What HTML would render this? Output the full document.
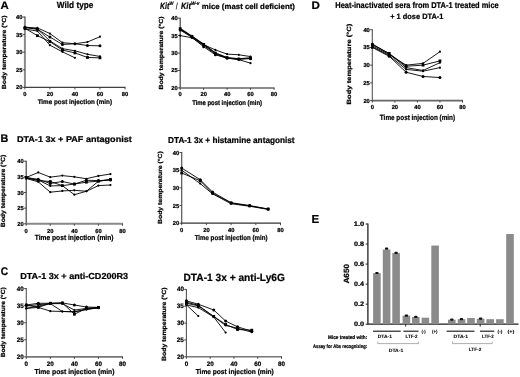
<!DOCTYPE html><html><head><meta charset="utf-8"><style>
html,body{margin:0;padding:0;background:#fff;width:520px;height:377px;overflow:hidden}
svg{display:block;font-family:"Liberation Sans", sans-serif;font-weight:bold;text-rendering:geometricPrecision;filter:grayscale(1) blur(0.3px)} text{stroke:#000;stroke-width:0.22px} text.n{stroke-width:0.08px}
</style></head><body>
<svg width="520" height="377" viewBox="0 0 520 377" fill="#000">
<rect width="520" height="377" fill="#fff"/>
<text x="0.57" y="8.80" font-size="10.901" textLength="8.23" lengthAdjust="spacingAndGlyphs">A</text>
<text x="0.55" y="141.50" font-size="11.047" textLength="7.79" lengthAdjust="spacingAndGlyphs">B</text>
<text x="0.78" y="275.30" font-size="11.192" textLength="7.40" lengthAdjust="spacingAndGlyphs">C</text>
<text x="311.63" y="8.85" font-size="10.974" textLength="8.36" lengthAdjust="spacingAndGlyphs">D</text>
<text x="311.62" y="222.80" font-size="11.628" textLength="7.73" lengthAdjust="spacingAndGlyphs">E</text>
<path d="M24.90 16.50 V87.40" fill="none" stroke="#8a8a8a" stroke-width="2.0"/>
<path d="M24.40 87.40 H125.50" fill="none" stroke="#404040" stroke-width="1.3"/>
<path d="M22.70 87.40 H24.90" stroke="#3a3a3a" stroke-width="0.9"/>
<text x="15.99" y="89.40" font-size="5.800" textLength="6.45" lengthAdjust="spacingAndGlyphs">20</text>
<path d="M22.70 69.80 H24.90" stroke="#3a3a3a" stroke-width="0.9"/>
<text x="15.91" y="71.80" font-size="5.800" textLength="6.45" lengthAdjust="spacingAndGlyphs">25</text>
<path d="M22.70 52.20 H24.90" stroke="#3a3a3a" stroke-width="0.9"/>
<text x="15.99" y="54.20" font-size="5.800" textLength="6.45" lengthAdjust="spacingAndGlyphs">30</text>
<path d="M22.70 34.60 H24.90" stroke="#3a3a3a" stroke-width="0.9"/>
<text x="15.91" y="36.60" font-size="5.800" textLength="6.45" lengthAdjust="spacingAndGlyphs">35</text>
<path d="M22.70 17.00 H24.90" stroke="#3a3a3a" stroke-width="0.9"/>
<text x="15.99" y="19.00" font-size="5.800" textLength="6.45" lengthAdjust="spacingAndGlyphs">40</text>
<path d="M24.90 87.40 V89.40" stroke="#3a3a3a" stroke-width="0.9"/>
<text x="23.29" y="96.20" font-size="5.800" textLength="3.23" lengthAdjust="spacingAndGlyphs">0</text>
<path d="M49.92 87.40 V89.40" stroke="#3a3a3a" stroke-width="0.9"/>
<text x="46.72" y="96.20" font-size="5.800" textLength="6.45" lengthAdjust="spacingAndGlyphs">20</text>
<path d="M74.95 87.40 V89.40" stroke="#3a3a3a" stroke-width="0.9"/>
<text x="71.80" y="96.20" font-size="5.800" textLength="6.45" lengthAdjust="spacingAndGlyphs">40</text>
<path d="M99.97 87.40 V89.40" stroke="#3a3a3a" stroke-width="0.9"/>
<text x="96.76" y="96.20" font-size="5.800" textLength="6.45" lengthAdjust="spacingAndGlyphs">60</text>
<path d="M125.00 87.40 V89.40" stroke="#3a3a3a" stroke-width="0.9"/>
<text x="121.80" y="96.20" font-size="5.800" textLength="6.45" lengthAdjust="spacingAndGlyphs">80</text>
<text x="56.79" y="7.85" font-size="9.084" textLength="36.59" lengthAdjust="spacingAndGlyphs">Wild type</text>
<text x="37.63" y="104.40" font-size="6.686" textLength="74.38" lengthAdjust="spacingAndGlyphs">Time post injection (min)</text>
<text transform="translate(6.10 89.16) rotate(-90)" font-size="5.959" textLength="73.76" lengthAdjust="spacingAndGlyphs">Body temperature (°C)</text>
<g fill="#000" stroke="none">
<polyline points="24.90,27.56 37.41,27.91 49.92,33.54 62.44,42.70 74.95,43.75 87.46,41.99 99.97,36.71" fill="none" stroke="#000" stroke-width="0.9" stroke-linejoin="round"/>
<circle cx="24.90" cy="27.56" r="1.10"/>
<circle cx="37.41" cy="27.91" r="1.10"/>
<circle cx="49.92" cy="33.54" r="1.10"/>
<circle cx="62.44" cy="42.70" r="1.10"/>
<circle cx="74.95" cy="43.75" r="1.10"/>
<circle cx="87.46" cy="41.99" r="1.10"/>
<circle cx="99.97" cy="36.71" r="1.10"/>
<polyline points="24.90,27.56 37.41,29.32 49.92,37.06 62.44,44.46 74.95,43.75 87.46,45.51 99.97,45.86" fill="none" stroke="#000" stroke-width="0.9" stroke-linejoin="round"/>
<circle cx="24.90" cy="27.56" r="1.50"/>
<circle cx="37.41" cy="29.32" r="1.50"/>
<circle cx="49.92" cy="37.06" r="1.50"/>
<circle cx="62.44" cy="44.46" r="1.50"/>
<circle cx="74.95" cy="43.75" r="1.50"/>
<circle cx="87.46" cy="45.51" r="1.50"/>
<circle cx="99.97" cy="45.86" r="1.50"/>
<polyline points="24.90,26.86 37.41,28.97 49.92,40.94 62.44,48.68 74.95,50.79 87.46,54.31 99.97,56.42" fill="none" stroke="#000" stroke-width="0.9" stroke-linejoin="round"/>
<circle cx="24.90" cy="26.86" r="1.10"/>
<circle cx="37.41" cy="28.97" r="1.10"/>
<circle cx="49.92" cy="40.94" r="1.10"/>
<circle cx="62.44" cy="48.68" r="1.10"/>
<circle cx="74.95" cy="50.79" r="1.10"/>
<circle cx="87.46" cy="54.31" r="1.10"/>
<circle cx="99.97" cy="56.42" r="1.10"/>
<polyline points="24.90,28.26 37.41,35.66 49.92,41.64 62.44,50.09 74.95,52.90 87.46,57.48 99.97,57.83" fill="none" stroke="#000" stroke-width="0.9" stroke-linejoin="round"/>
<rect x="23.50" y="26.86" width="2.80" height="2.80"/>
<rect x="36.01" y="34.26" width="2.80" height="2.80"/>
<rect x="48.52" y="40.24" width="2.80" height="2.80"/>
<rect x="61.04" y="48.69" width="2.80" height="2.80"/>
<rect x="73.55" y="51.50" width="2.80" height="2.80"/>
<rect x="86.06" y="56.08" width="2.80" height="2.80"/>
<rect x="98.57" y="56.43" width="2.80" height="2.80"/>
<polyline points="24.90,28.97 37.41,31.08 49.92,45.16 62.44,51.85 74.95,57.83" fill="none" stroke="#000" stroke-width="0.9" stroke-linejoin="round"/>
<circle cx="24.90" cy="28.97" r="1.10"/>
<circle cx="37.41" cy="31.08" r="1.10"/>
<circle cx="49.92" cy="45.16" r="1.10"/>
<circle cx="62.44" cy="51.85" r="1.10"/>
<circle cx="74.95" cy="57.83" r="1.10"/>
</g>
<path d="M180.20 17.70 V87.90" fill="none" stroke="#444" stroke-width="1.2"/>
<path d="M179.70 87.90 H274.50" fill="none" stroke="#666" stroke-width="1.5"/>
<path d="M178.00 87.90 H180.20" stroke="#3a3a3a" stroke-width="0.9"/>
<text x="171.29" y="89.90" font-size="5.800" textLength="6.45" lengthAdjust="spacingAndGlyphs">20</text>
<path d="M178.00 70.48 H180.20" stroke="#3a3a3a" stroke-width="0.9"/>
<text x="171.21" y="72.48" font-size="5.800" textLength="6.45" lengthAdjust="spacingAndGlyphs">25</text>
<path d="M178.00 53.05 H180.20" stroke="#3a3a3a" stroke-width="0.9"/>
<text x="171.29" y="55.05" font-size="5.800" textLength="6.45" lengthAdjust="spacingAndGlyphs">30</text>
<path d="M178.00 35.62 H180.20" stroke="#3a3a3a" stroke-width="0.9"/>
<text x="171.21" y="37.62" font-size="5.800" textLength="6.45" lengthAdjust="spacingAndGlyphs">35</text>
<path d="M178.00 18.20 H180.20" stroke="#3a3a3a" stroke-width="0.9"/>
<text x="171.29" y="20.20" font-size="5.800" textLength="6.45" lengthAdjust="spacingAndGlyphs">40</text>
<path d="M180.20 87.90 V89.90" stroke="#3a3a3a" stroke-width="0.9"/>
<text x="178.59" y="96.30" font-size="5.800" textLength="3.23" lengthAdjust="spacingAndGlyphs">0</text>
<path d="M203.65 87.90 V89.90" stroke="#3a3a3a" stroke-width="0.9"/>
<text x="200.44" y="96.30" font-size="5.800" textLength="6.45" lengthAdjust="spacingAndGlyphs">20</text>
<path d="M227.10 87.90 V89.90" stroke="#3a3a3a" stroke-width="0.9"/>
<text x="223.95" y="96.30" font-size="5.800" textLength="6.45" lengthAdjust="spacingAndGlyphs">40</text>
<path d="M250.55 87.90 V89.90" stroke="#3a3a3a" stroke-width="0.9"/>
<text x="247.34" y="96.30" font-size="5.800" textLength="6.45" lengthAdjust="spacingAndGlyphs">60</text>
<path d="M274.00 87.90 V89.90" stroke="#3a3a3a" stroke-width="0.9"/>
<text x="270.80" y="96.30" font-size="5.800" textLength="6.45" lengthAdjust="spacingAndGlyphs">80</text>
<text x="192.13" y="105.00" font-size="6.831" textLength="69.86" lengthAdjust="spacingAndGlyphs">Time post injection (min)</text>
<text transform="translate(162.70 89.56) rotate(-90)" font-size="5.959" textLength="73.10" lengthAdjust="spacingAndGlyphs">Body temperature (°C)</text>
<g fill="#000" stroke="none">
<polyline points="180.20,29.35 191.92,36.67 203.65,44.69 215.38,49.91 227.10,54.10 238.82,54.79 250.55,56.54" fill="none" stroke="#000" stroke-width="0.9" stroke-linejoin="round"/>
<circle cx="180.20" cy="29.35" r="1.10"/>
<circle cx="191.92" cy="36.67" r="1.10"/>
<circle cx="203.65" cy="44.69" r="1.10"/>
<circle cx="215.38" cy="49.91" r="1.10"/>
<circle cx="227.10" cy="54.10" r="1.10"/>
<circle cx="238.82" cy="54.79" r="1.10"/>
<circle cx="250.55" cy="56.54" r="1.10"/>
<polyline points="180.20,30.05 191.92,37.37 203.65,46.78 215.38,54.79 227.10,58.28 238.82,59.32 250.55,58.63" fill="none" stroke="#000" stroke-width="0.9" stroke-linejoin="round"/>
<circle cx="180.20" cy="30.05" r="1.50"/>
<circle cx="191.92" cy="37.37" r="1.50"/>
<circle cx="203.65" cy="46.78" r="1.50"/>
<circle cx="215.38" cy="54.79" r="1.50"/>
<circle cx="227.10" cy="58.28" r="1.50"/>
<circle cx="238.82" cy="59.32" r="1.50"/>
<circle cx="250.55" cy="58.63" r="1.50"/>
<polyline points="180.20,35.62 191.92,37.72 203.65,45.38 215.38,54.10 227.10,57.93 238.82,59.67 250.55,63.16" fill="none" stroke="#000" stroke-width="0.9" stroke-linejoin="round"/>
<circle cx="180.20" cy="35.62" r="1.10"/>
<circle cx="191.92" cy="37.72" r="1.10"/>
<circle cx="203.65" cy="45.38" r="1.10"/>
<circle cx="215.38" cy="54.10" r="1.10"/>
<circle cx="227.10" cy="57.93" r="1.10"/>
<circle cx="238.82" cy="59.67" r="1.10"/>
<circle cx="250.55" cy="63.16" r="1.10"/>
<polyline points="180.20,28.66 191.92,36.32 203.65,44.34 215.38,53.05 227.10,57.58 238.82,58.97 250.55,57.93" fill="none" stroke="#000" stroke-width="1.3" stroke-linejoin="round"/>
<rect x="178.80" y="27.26" width="2.80" height="2.80"/>
<rect x="190.52" y="34.92" width="2.80" height="2.80"/>
<rect x="202.25" y="42.94" width="2.80" height="2.80"/>
<rect x="213.97" y="51.65" width="2.80" height="2.80"/>
<rect x="225.70" y="56.18" width="2.80" height="2.80"/>
<rect x="237.42" y="57.57" width="2.80" height="2.80"/>
<rect x="249.15" y="56.53" width="2.80" height="2.80"/>
</g>
<path d="M26.20 160.70 V223.80" fill="none" stroke="#444" stroke-width="1.2"/>
<path d="M25.70 223.80 H123.00" fill="none" stroke="#888" stroke-width="2.0"/>
<path d="M24.00 223.80 H26.20" stroke="#3a3a3a" stroke-width="0.9"/>
<text x="17.29" y="225.80" font-size="5.800" textLength="6.45" lengthAdjust="spacingAndGlyphs">20</text>
<path d="M24.00 208.15 H26.20" stroke="#3a3a3a" stroke-width="0.9"/>
<text x="17.21" y="210.15" font-size="5.800" textLength="6.45" lengthAdjust="spacingAndGlyphs">25</text>
<path d="M24.00 192.50 H26.20" stroke="#3a3a3a" stroke-width="0.9"/>
<text x="17.29" y="194.50" font-size="5.800" textLength="6.45" lengthAdjust="spacingAndGlyphs">30</text>
<path d="M24.00 176.85 H26.20" stroke="#3a3a3a" stroke-width="0.9"/>
<text x="17.21" y="178.85" font-size="5.800" textLength="6.45" lengthAdjust="spacingAndGlyphs">35</text>
<path d="M24.00 161.20 H26.20" stroke="#3a3a3a" stroke-width="0.9"/>
<text x="17.29" y="163.20" font-size="5.800" textLength="6.45" lengthAdjust="spacingAndGlyphs">40</text>
<path d="M26.20 223.80 V225.80" stroke="#3a3a3a" stroke-width="0.9"/>
<text x="24.59" y="232.60" font-size="5.800" textLength="3.23" lengthAdjust="spacingAndGlyphs">0</text>
<path d="M50.27 223.80 V225.80" stroke="#3a3a3a" stroke-width="0.9"/>
<text x="47.07" y="232.60" font-size="5.800" textLength="6.45" lengthAdjust="spacingAndGlyphs">20</text>
<path d="M74.35 223.80 V225.80" stroke="#3a3a3a" stroke-width="0.9"/>
<text x="71.20" y="232.60" font-size="5.800" textLength="6.45" lengthAdjust="spacingAndGlyphs">40</text>
<path d="M98.42 223.80 V225.80" stroke="#3a3a3a" stroke-width="0.9"/>
<text x="95.21" y="232.60" font-size="5.800" textLength="6.45" lengthAdjust="spacingAndGlyphs">60</text>
<path d="M122.50 223.80 V225.80" stroke="#3a3a3a" stroke-width="0.9"/>
<text x="119.30" y="232.60" font-size="5.800" textLength="6.45" lengthAdjust="spacingAndGlyphs">80</text>
<text x="16.90" y="142.00" font-size="8.430" textLength="114.91" lengthAdjust="spacingAndGlyphs">DTA-1 3x + PAF antagonist</text>
<text x="34.73" y="239.90" font-size="7.413" textLength="78.81" lengthAdjust="spacingAndGlyphs">Time post injection (min)</text>
<text transform="translate(4.60 227.26) rotate(-90)" font-size="6.105" textLength="72.60" lengthAdjust="spacingAndGlyphs">Body temperature (°C)</text>
<g fill="#000" stroke="none">
<polyline points="26.20,177.48 38.24,172.47 50.27,177.16 62.31,175.60 74.35,176.85 86.39,178.73 98.42,175.91 110.46,174.03" fill="none" stroke="#000" stroke-width="0.9" stroke-linejoin="round"/>
<circle cx="26.20" cy="177.48" r="1.10"/>
<circle cx="38.24" cy="172.47" r="1.10"/>
<circle cx="50.27" cy="177.16" r="1.10"/>
<circle cx="62.31" cy="175.60" r="1.10"/>
<circle cx="74.35" cy="176.85" r="1.10"/>
<circle cx="86.39" cy="178.73" r="1.10"/>
<circle cx="98.42" cy="175.91" r="1.10"/>
<circle cx="110.46" cy="174.03" r="1.10"/>
<polyline points="26.20,177.48 38.24,179.35 50.27,183.42 62.31,181.54 74.35,184.05 86.39,180.29 98.42,180.61 110.46,179.98" fill="none" stroke="#000" stroke-width="0.9" stroke-linejoin="round"/>
<circle cx="26.20" cy="177.48" r="1.50"/>
<circle cx="38.24" cy="179.35" r="1.50"/>
<circle cx="50.27" cy="183.42" r="1.50"/>
<circle cx="62.31" cy="181.54" r="1.50"/>
<circle cx="74.35" cy="184.05" r="1.50"/>
<circle cx="86.39" cy="180.29" r="1.50"/>
<circle cx="98.42" cy="180.61" r="1.50"/>
<circle cx="110.46" cy="179.98" r="1.50"/>
<polyline points="26.20,177.48 38.24,180.61 50.27,181.54 62.31,185.61 74.35,184.05 86.39,182.17 98.42,181.23 110.46,179.35" fill="none" stroke="#000" stroke-width="0.9" stroke-linejoin="round"/>
<rect x="24.80" y="176.08" width="2.80" height="2.80"/>
<rect x="36.84" y="179.21" width="2.80" height="2.80"/>
<rect x="48.87" y="180.14" width="2.80" height="2.80"/>
<rect x="60.91" y="184.21" width="2.80" height="2.80"/>
<rect x="72.95" y="182.65" width="2.80" height="2.80"/>
<rect x="84.99" y="180.77" width="2.80" height="2.80"/>
<rect x="97.02" y="179.83" width="2.80" height="2.80"/>
<rect x="109.06" y="177.95" width="2.80" height="2.80"/>
<polyline points="26.20,178.41 38.24,181.86 50.27,192.19 62.31,190.94 74.35,190.31 86.39,191.25 98.42,185.61 110.46,184.99" fill="none" stroke="#000" stroke-width="0.9" stroke-linejoin="round"/>
<circle cx="26.20" cy="178.41" r="1.10"/>
<circle cx="38.24" cy="181.86" r="1.10"/>
<circle cx="50.27" cy="192.19" r="1.10"/>
<circle cx="62.31" cy="190.94" r="1.10"/>
<circle cx="74.35" cy="190.31" r="1.10"/>
<circle cx="86.39" cy="191.25" r="1.10"/>
<circle cx="98.42" cy="185.61" r="1.10"/>
<circle cx="110.46" cy="184.99" r="1.10"/>
<polyline points="26.20,178.41 38.24,179.98 50.27,185.93 62.31,185.61 74.35,194.69 86.39,191.25 98.42,181.23 110.46,179.67" fill="none" stroke="#000" stroke-width="0.9" stroke-linejoin="round"/>
<circle cx="26.20" cy="178.41" r="1.10"/>
<circle cx="38.24" cy="179.98" r="1.10"/>
<circle cx="50.27" cy="185.93" r="1.10"/>
<circle cx="62.31" cy="185.61" r="1.10"/>
<circle cx="74.35" cy="194.69" r="1.10"/>
<circle cx="86.39" cy="191.25" r="1.10"/>
<circle cx="98.42" cy="181.23" r="1.10"/>
<circle cx="110.46" cy="179.67" r="1.10"/>
</g>
<path d="M181.70 152.00 V223.20" fill="none" stroke="#555" stroke-width="1.2"/>
<path d="M181.20 223.20 H281.00" fill="none" stroke="#333" stroke-width="1.3"/>
<path d="M179.50 223.20 H181.70" stroke="#3a3a3a" stroke-width="0.9"/>
<text x="172.79" y="225.20" font-size="5.800" textLength="6.45" lengthAdjust="spacingAndGlyphs">20</text>
<path d="M179.50 205.52 H181.70" stroke="#3a3a3a" stroke-width="0.9"/>
<text x="172.71" y="207.52" font-size="5.800" textLength="6.45" lengthAdjust="spacingAndGlyphs">25</text>
<path d="M179.50 187.85 H181.70" stroke="#3a3a3a" stroke-width="0.9"/>
<text x="172.79" y="189.85" font-size="5.800" textLength="6.45" lengthAdjust="spacingAndGlyphs">30</text>
<path d="M179.50 170.18 H181.70" stroke="#3a3a3a" stroke-width="0.9"/>
<text x="172.71" y="172.18" font-size="5.800" textLength="6.45" lengthAdjust="spacingAndGlyphs">35</text>
<path d="M179.50 152.50 H181.70" stroke="#3a3a3a" stroke-width="0.9"/>
<text x="172.79" y="154.50" font-size="5.800" textLength="6.45" lengthAdjust="spacingAndGlyphs">40</text>
<path d="M181.70 223.20 V225.20" stroke="#3a3a3a" stroke-width="0.9"/>
<text x="180.09" y="232.00" font-size="5.800" textLength="3.23" lengthAdjust="spacingAndGlyphs">0</text>
<path d="M206.40 223.20 V225.20" stroke="#3a3a3a" stroke-width="0.9"/>
<text x="203.19" y="232.00" font-size="5.800" textLength="6.45" lengthAdjust="spacingAndGlyphs">20</text>
<path d="M231.10 223.20 V225.20" stroke="#3a3a3a" stroke-width="0.9"/>
<text x="227.95" y="232.00" font-size="5.800" textLength="6.45" lengthAdjust="spacingAndGlyphs">40</text>
<path d="M255.80 223.20 V225.20" stroke="#3a3a3a" stroke-width="0.9"/>
<text x="252.59" y="232.00" font-size="5.800" textLength="6.45" lengthAdjust="spacingAndGlyphs">60</text>
<path d="M280.50 223.20 V225.20" stroke="#3a3a3a" stroke-width="0.9"/>
<text x="277.30" y="232.00" font-size="5.800" textLength="6.45" lengthAdjust="spacingAndGlyphs">80</text>
<text x="168.05" y="143.40" font-size="8.576" textLength="126.55" lengthAdjust="spacingAndGlyphs">DTA-1 3x + histamine antagonist</text>
<text x="194.63" y="239.60" font-size="6.977" textLength="72.88" lengthAdjust="spacingAndGlyphs">Time post injection (min)</text>
<text transform="translate(161.80 223.96) rotate(-90)" font-size="5.959" textLength="72.70" lengthAdjust="spacingAndGlyphs">Body temperature (°C)</text>
<g fill="#000" stroke="none">
<polyline points="181.70,168.05 200.22,179.72 212.57,192.09 231.10,202.70 249.62,205.52 268.15,209.06" fill="none" stroke="#000" stroke-width="0.9" stroke-linejoin="round"/>
<circle cx="181.70" cy="168.05" r="1.50"/>
<circle cx="200.22" cy="179.72" r="1.50"/>
<circle cx="212.57" cy="192.09" r="1.50"/>
<circle cx="231.10" cy="202.70" r="1.50"/>
<circle cx="249.62" cy="205.52" r="1.50"/>
<circle cx="268.15" cy="209.06" r="1.50"/>
<polyline points="181.70,170.18 200.22,183.61 212.57,193.86 231.10,203.76 249.62,206.23 268.15,209.41" fill="none" stroke="#000" stroke-width="0.9" stroke-linejoin="round"/>
<circle cx="181.70" cy="170.18" r="1.10"/>
<circle cx="200.22" cy="183.61" r="1.10"/>
<circle cx="212.57" cy="193.86" r="1.10"/>
<circle cx="231.10" cy="203.76" r="1.10"/>
<circle cx="249.62" cy="206.23" r="1.10"/>
<circle cx="268.15" cy="209.41" r="1.10"/>
<polyline points="181.70,173.00 200.22,180.78 212.57,193.15 231.10,203.05 249.62,205.88 268.15,209.06" fill="none" stroke="#000" stroke-width="0.9" stroke-linejoin="round"/>
<rect x="180.30" y="171.60" width="2.80" height="2.80"/>
<rect x="198.82" y="179.38" width="2.80" height="2.80"/>
<rect x="211.17" y="191.75" width="2.80" height="2.80"/>
<rect x="229.70" y="201.65" width="2.80" height="2.80"/>
<rect x="248.22" y="204.48" width="2.80" height="2.80"/>
<rect x="266.75" y="207.66" width="2.80" height="2.80"/>
</g>
<path d="M26.30 288.10 V356.90" fill="none" stroke="#555" stroke-width="1.1"/>
<path d="M25.80 356.90 H123.00" fill="none" stroke="#777" stroke-width="1.6"/>
<path d="M24.10 356.90 H26.30" stroke="#3a3a3a" stroke-width="0.9"/>
<text x="16.85" y="358.90" font-size="6.300" textLength="7.01" lengthAdjust="spacingAndGlyphs">20</text>
<path d="M24.10 339.82 H26.30" stroke="#3a3a3a" stroke-width="0.9"/>
<text x="16.77" y="341.82" font-size="6.300" textLength="7.01" lengthAdjust="spacingAndGlyphs">25</text>
<path d="M24.10 322.75 H26.30" stroke="#3a3a3a" stroke-width="0.9"/>
<text x="16.85" y="324.75" font-size="6.300" textLength="7.01" lengthAdjust="spacingAndGlyphs">30</text>
<path d="M24.10 305.68 H26.30" stroke="#3a3a3a" stroke-width="0.9"/>
<text x="16.77" y="307.68" font-size="6.300" textLength="7.01" lengthAdjust="spacingAndGlyphs">35</text>
<path d="M24.10 288.60 H26.30" stroke="#3a3a3a" stroke-width="0.9"/>
<text x="16.85" y="290.60" font-size="6.300" textLength="7.01" lengthAdjust="spacingAndGlyphs">40</text>
<path d="M26.30 356.90 V358.90" stroke="#3a3a3a" stroke-width="0.9"/>
<text x="24.55" y="366.10" font-size="6.300" textLength="3.50" lengthAdjust="spacingAndGlyphs">0</text>
<path d="M50.35 356.90 V358.90" stroke="#3a3a3a" stroke-width="0.9"/>
<text x="46.87" y="366.10" font-size="6.300" textLength="7.01" lengthAdjust="spacingAndGlyphs">20</text>
<path d="M74.40 356.90 V358.90" stroke="#3a3a3a" stroke-width="0.9"/>
<text x="70.98" y="366.10" font-size="6.300" textLength="7.01" lengthAdjust="spacingAndGlyphs">40</text>
<path d="M98.45 356.90 V358.90" stroke="#3a3a3a" stroke-width="0.9"/>
<text x="94.96" y="366.10" font-size="6.300" textLength="7.01" lengthAdjust="spacingAndGlyphs">60</text>
<path d="M122.50 356.90 V358.90" stroke="#3a3a3a" stroke-width="0.9"/>
<text x="119.03" y="366.10" font-size="6.300" textLength="7.01" lengthAdjust="spacingAndGlyphs">80</text>
<text x="20.20" y="279.10" font-size="8.721" textLength="107.93" lengthAdjust="spacingAndGlyphs">DTA-1 3x + anti-CD200R3</text>
<text x="34.42" y="374.10" font-size="7.122" textLength="80.11" lengthAdjust="spacingAndGlyphs">Time post injection (min)</text>
<text transform="translate(5.10 357.34) rotate(-90)" font-size="5.959" textLength="69.97" lengthAdjust="spacingAndGlyphs">Body temperature (°C)</text>
<g fill="#000" stroke="none">
<polyline points="26.30,304.99 38.33,303.28 50.35,303.28 62.38,302.94 74.40,304.99 86.43,307.04 98.45,307.38" fill="none" stroke="#000" stroke-width="0.9" stroke-linejoin="round"/>
<circle cx="26.30" cy="304.99" r="1.50"/>
<circle cx="38.33" cy="303.28" r="1.50"/>
<circle cx="50.35" cy="303.28" r="1.50"/>
<circle cx="62.38" cy="302.94" r="1.50"/>
<circle cx="74.40" cy="304.99" r="1.50"/>
<circle cx="86.43" cy="307.04" r="1.50"/>
<circle cx="98.45" cy="307.38" r="1.50"/>
<polyline points="26.30,306.02 38.33,304.65 50.35,303.63 62.38,303.63 74.40,310.11 86.43,308.41 98.45,308.07" fill="none" stroke="#000" stroke-width="0.9" stroke-linejoin="round"/>
<circle cx="26.30" cy="306.02" r="1.10"/>
<circle cx="38.33" cy="304.65" r="1.10"/>
<circle cx="50.35" cy="303.63" r="1.10"/>
<circle cx="62.38" cy="303.63" r="1.10"/>
<circle cx="74.40" cy="310.11" r="1.10"/>
<circle cx="86.43" cy="308.41" r="1.10"/>
<circle cx="98.45" cy="308.07" r="1.10"/>
<polyline points="26.30,308.41 38.33,306.02 50.35,303.63 62.38,311.48 74.40,311.82 86.43,309.43 98.45,307.72" fill="none" stroke="#000" stroke-width="0.9" stroke-linejoin="round"/>
<circle cx="26.30" cy="308.41" r="1.10"/>
<circle cx="38.33" cy="306.02" r="1.10"/>
<circle cx="50.35" cy="303.63" r="1.10"/>
<circle cx="62.38" cy="311.48" r="1.10"/>
<circle cx="74.40" cy="311.82" r="1.10"/>
<circle cx="86.43" cy="309.43" r="1.10"/>
<circle cx="98.45" cy="307.72" r="1.10"/>
<polyline points="26.30,308.41 38.33,307.38 50.35,311.14 62.38,311.48 74.40,311.82 86.43,309.43 98.45,307.72" fill="none" stroke="#000" stroke-width="0.9" stroke-linejoin="round"/>
<circle cx="26.30" cy="308.41" r="1.10"/>
<circle cx="38.33" cy="307.38" r="1.10"/>
<circle cx="50.35" cy="311.14" r="1.10"/>
<circle cx="62.38" cy="311.48" r="1.10"/>
<circle cx="74.40" cy="311.82" r="1.10"/>
<circle cx="86.43" cy="309.43" r="1.10"/>
<circle cx="98.45" cy="307.72" r="1.10"/>
<polyline points="26.30,304.99 38.33,307.38 50.35,303.28 62.38,302.94 74.40,314.21 86.43,308.41 98.45,307.38" fill="none" stroke="#000" stroke-width="0.9" stroke-linejoin="round"/>
<rect x="24.90" y="303.59" width="2.80" height="2.80"/>
<rect x="36.93" y="305.98" width="2.80" height="2.80"/>
<rect x="48.95" y="301.88" width="2.80" height="2.80"/>
<rect x="60.98" y="301.54" width="2.80" height="2.80"/>
<rect x="73.00" y="312.81" width="2.80" height="2.80"/>
<rect x="85.03" y="307.01" width="2.80" height="2.80"/>
<rect x="97.05" y="305.98" width="2.80" height="2.80"/>
</g>
<path d="M186.40 288.90 V356.80" fill="none" stroke="#555" stroke-width="1.1"/>
<path d="M185.90 356.80 H282.00" fill="none" stroke="#777" stroke-width="1.6"/>
<path d="M184.20 356.80 H186.40" stroke="#3a3a3a" stroke-width="0.9"/>
<text x="176.95" y="358.80" font-size="6.300" textLength="7.01" lengthAdjust="spacingAndGlyphs">20</text>
<path d="M184.20 339.95 H186.40" stroke="#3a3a3a" stroke-width="0.9"/>
<text x="176.87" y="341.95" font-size="6.300" textLength="7.01" lengthAdjust="spacingAndGlyphs">25</text>
<path d="M184.20 323.10 H186.40" stroke="#3a3a3a" stroke-width="0.9"/>
<text x="176.95" y="325.10" font-size="6.300" textLength="7.01" lengthAdjust="spacingAndGlyphs">30</text>
<path d="M184.20 306.25 H186.40" stroke="#3a3a3a" stroke-width="0.9"/>
<text x="176.87" y="308.25" font-size="6.300" textLength="7.01" lengthAdjust="spacingAndGlyphs">35</text>
<path d="M184.20 289.40 H186.40" stroke="#3a3a3a" stroke-width="0.9"/>
<text x="176.95" y="291.40" font-size="6.300" textLength="7.01" lengthAdjust="spacingAndGlyphs">40</text>
<path d="M186.40 356.80 V358.80" stroke="#3a3a3a" stroke-width="0.9"/>
<text x="184.65" y="366.00" font-size="6.300" textLength="3.50" lengthAdjust="spacingAndGlyphs">0</text>
<path d="M210.18 356.80 V358.80" stroke="#3a3a3a" stroke-width="0.9"/>
<text x="206.69" y="366.00" font-size="6.300" textLength="7.01" lengthAdjust="spacingAndGlyphs">20</text>
<path d="M233.95 356.80 V358.80" stroke="#3a3a3a" stroke-width="0.9"/>
<text x="230.53" y="366.00" font-size="6.300" textLength="7.01" lengthAdjust="spacingAndGlyphs">40</text>
<path d="M257.73 356.80 V358.80" stroke="#3a3a3a" stroke-width="0.9"/>
<text x="254.24" y="366.00" font-size="6.300" textLength="7.01" lengthAdjust="spacingAndGlyphs">60</text>
<path d="M281.50 356.80 V358.80" stroke="#3a3a3a" stroke-width="0.9"/>
<text x="278.03" y="366.00" font-size="6.300" textLength="7.01" lengthAdjust="spacingAndGlyphs">80</text>
<text x="183.53" y="280.50" font-size="10.465" textLength="101.40" lengthAdjust="spacingAndGlyphs">DTA-1 3x + anti-Ly6G</text>
<text x="195.63" y="374.30" font-size="7.122" textLength="78.20" lengthAdjust="spacingAndGlyphs">Time post injection (min)</text>
<text transform="translate(166.00 360.96) rotate(-90)" font-size="6.105" textLength="73.61" lengthAdjust="spacingAndGlyphs">Body temperature (°C)</text>
<g fill="#000" stroke="none">
<polyline points="186.40,300.86 198.29,304.23 213.74,309.96 225.63,321.08 237.52,326.81 251.78,331.19" fill="none" stroke="#000" stroke-width="0.9" stroke-linejoin="round"/>
<circle cx="186.40" cy="300.86" r="1.50"/>
<circle cx="198.29" cy="304.23" r="1.50"/>
<circle cx="213.74" cy="309.96" r="1.50"/>
<circle cx="225.63" cy="321.08" r="1.50"/>
<circle cx="237.52" cy="326.81" r="1.50"/>
<circle cx="251.78" cy="331.19" r="1.50"/>
<polyline points="186.40,303.22 198.29,305.91 213.74,316.36 225.63,324.45 237.52,329.50 251.78,330.18" fill="none" stroke="#000" stroke-width="0.9" stroke-linejoin="round"/>
<rect x="185.00" y="301.82" width="2.80" height="2.80"/>
<rect x="196.89" y="304.51" width="2.80" height="2.80"/>
<rect x="212.34" y="314.96" width="2.80" height="2.80"/>
<rect x="224.23" y="323.05" width="2.80" height="2.80"/>
<rect x="236.12" y="328.10" width="2.80" height="2.80"/>
<rect x="250.38" y="328.78" width="2.80" height="2.80"/>
<polyline points="186.40,304.90 198.29,307.60 213.74,317.03 225.63,332.54" fill="none" stroke="#000" stroke-width="0.9" stroke-linejoin="round"/>
<circle cx="186.40" cy="304.90" r="1.10"/>
<circle cx="198.29" cy="307.60" r="1.10"/>
<circle cx="213.74" cy="317.03" r="1.10"/>
<circle cx="225.63" cy="332.54" r="1.10"/>
<polyline points="186.40,304.90 198.29,316.02" fill="none" stroke="#000" stroke-width="0.9" stroke-linejoin="round"/>
<circle cx="186.40" cy="304.90" r="1.10"/>
<circle cx="198.29" cy="316.02" r="1.10"/>
<polyline points="186.40,302.21 198.29,305.24 213.74,316.70 225.63,325.46 237.52,328.15 251.78,332.20" fill="none" stroke="#000" stroke-width="0.9" stroke-linejoin="round"/>
<circle cx="186.40" cy="302.21" r="1.10"/>
<circle cx="198.29" cy="305.24" r="1.10"/>
<circle cx="213.74" cy="316.70" r="1.10"/>
<circle cx="225.63" cy="325.46" r="1.10"/>
<circle cx="237.52" cy="328.15" r="1.10"/>
<circle cx="251.78" cy="332.20" r="1.10"/>
</g>
<path d="M372.30 29.20 V100.60" fill="none" stroke="#555" stroke-width="1.1"/>
<path d="M371.80 100.60 H463.00" fill="none" stroke="#666" stroke-width="1.6"/>
<path d="M370.10 100.60 H372.30" stroke="#3a3a3a" stroke-width="0.9"/>
<text x="363.39" y="102.60" font-size="5.800" textLength="6.45" lengthAdjust="spacingAndGlyphs">20</text>
<path d="M370.10 82.88 H372.30" stroke="#3a3a3a" stroke-width="0.9"/>
<text x="363.31" y="84.88" font-size="5.800" textLength="6.45" lengthAdjust="spacingAndGlyphs">25</text>
<path d="M370.10 65.15 H372.30" stroke="#3a3a3a" stroke-width="0.9"/>
<text x="363.39" y="67.15" font-size="5.800" textLength="6.45" lengthAdjust="spacingAndGlyphs">30</text>
<path d="M370.10 47.43 H372.30" stroke="#3a3a3a" stroke-width="0.9"/>
<text x="363.31" y="49.43" font-size="5.800" textLength="6.45" lengthAdjust="spacingAndGlyphs">35</text>
<path d="M370.10 29.70 H372.30" stroke="#3a3a3a" stroke-width="0.9"/>
<text x="363.39" y="31.70" font-size="5.800" textLength="6.45" lengthAdjust="spacingAndGlyphs">40</text>
<path d="M372.30 100.60 V102.60" stroke="#3a3a3a" stroke-width="0.9"/>
<text x="370.69" y="109.40" font-size="5.800" textLength="3.23" lengthAdjust="spacingAndGlyphs">0</text>
<path d="M394.85 100.60 V102.60" stroke="#3a3a3a" stroke-width="0.9"/>
<text x="391.64" y="109.40" font-size="5.800" textLength="6.45" lengthAdjust="spacingAndGlyphs">20</text>
<path d="M417.40 100.60 V102.60" stroke="#3a3a3a" stroke-width="0.9"/>
<text x="414.25" y="109.40" font-size="5.800" textLength="6.45" lengthAdjust="spacingAndGlyphs">40</text>
<path d="M439.95 100.60 V102.60" stroke="#3a3a3a" stroke-width="0.9"/>
<text x="436.74" y="109.40" font-size="5.800" textLength="6.45" lengthAdjust="spacingAndGlyphs">60</text>
<path d="M462.50 100.60 V102.60" stroke="#3a3a3a" stroke-width="0.9"/>
<text x="459.30" y="109.40" font-size="5.800" textLength="6.45" lengthAdjust="spacingAndGlyphs">80</text>
<text x="335.30" y="7.90" font-size="8.430" textLength="163.45" lengthAdjust="spacingAndGlyphs">Heat-inactivated sera from DTA-1 treated mice</text>
<text x="390.19" y="18.50" font-size="7.703" textLength="53.26" lengthAdjust="spacingAndGlyphs">+ 1 dose DTA-1</text>
<text x="379.83" y="120.30" font-size="7.558" textLength="75.29" lengthAdjust="spacingAndGlyphs">Time post injection (min)</text>
<text transform="translate(351.10 104.41) rotate(-90)" font-size="6.105" textLength="80.74" lengthAdjust="spacingAndGlyphs">Body temperature (°C)</text>
<g fill="#000" stroke="none">
<polyline points="372.30,45.65 389.21,54.52 406.12,65.15 423.04,63.38 439.95,51.68" fill="none" stroke="#000" stroke-width="0.9" stroke-linejoin="round"/>
<circle cx="372.30" cy="45.65" r="1.10"/>
<circle cx="389.21" cy="54.52" r="1.10"/>
<circle cx="406.12" cy="65.15" r="1.10"/>
<circle cx="423.04" cy="63.38" r="1.10"/>
<circle cx="439.95" cy="51.68" r="1.10"/>
<polyline points="372.30,44.59 389.21,53.45 406.12,66.21 423.04,65.15 439.95,60.90" fill="none" stroke="#000" stroke-width="0.9" stroke-linejoin="round"/>
<rect x="370.90" y="43.19" width="2.80" height="2.80"/>
<rect x="387.81" y="52.05" width="2.80" height="2.80"/>
<rect x="404.73" y="64.81" width="2.80" height="2.80"/>
<rect x="421.64" y="63.75" width="2.80" height="2.80"/>
<rect x="438.55" y="59.50" width="2.80" height="2.80"/>
<polyline points="372.30,43.88 389.21,53.81 406.12,67.63 423.04,70.47 439.95,62.67" fill="none" stroke="#000" stroke-width="0.9" stroke-linejoin="round"/>
<circle cx="372.30" cy="43.88" r="1.10"/>
<circle cx="389.21" cy="53.81" r="1.10"/>
<circle cx="406.12" cy="67.63" r="1.10"/>
<circle cx="423.04" cy="70.47" r="1.10"/>
<circle cx="439.95" cy="62.67" r="1.10"/>
<polyline points="372.30,46.72 389.21,55.58 406.12,69.40 423.04,71.18 439.95,67.63" fill="none" stroke="#000" stroke-width="0.9" stroke-linejoin="round"/>
<circle cx="372.30" cy="46.72" r="1.10"/>
<circle cx="389.21" cy="55.58" r="1.10"/>
<circle cx="406.12" cy="69.40" r="1.10"/>
<circle cx="423.04" cy="71.18" r="1.10"/>
<circle cx="439.95" cy="67.63" r="1.10"/>
<polyline points="372.30,47.43 389.21,56.29 406.12,72.24 423.04,76.49 439.95,77.56" fill="none" stroke="#000" stroke-width="0.9" stroke-linejoin="round"/>
<circle cx="372.30" cy="47.43" r="1.50"/>
<circle cx="389.21" cy="56.29" r="1.50"/>
<circle cx="406.12" cy="72.24" r="1.50"/>
<circle cx="423.04" cy="76.49" r="1.50"/>
<circle cx="439.95" cy="77.56" r="1.50"/>
</g>
<text x="159.98" y="8.85" font-size="9.012" font-style="italic" textLength="9.28" lengthAdjust="spacingAndGlyphs">Kit</text>
<text x="169.37" y="4.60" font-size="5.087" font-style="italic" textLength="4.21" lengthAdjust="spacingAndGlyphs">W</text>
<text x="175.88" y="8.85" font-size="8.973" font-style="italic" textLength="1.31" lengthAdjust="spacingAndGlyphs">/</text>
<text x="181.07" y="8.85" font-size="9.012" font-style="italic" textLength="9.78" lengthAdjust="spacingAndGlyphs">Kit</text>
<text x="190.96" y="4.60" font-size="5.087" font-style="italic" textLength="8.43" lengthAdjust="spacingAndGlyphs">W-v</text>
<text x="201.88" y="8.70" font-size="7.765" textLength="93.00" lengthAdjust="spacingAndGlyphs">mice (mast cell deficient)</text>
<path d="M367.90 223.50 V324.20 H518.5" fill="none" stroke="#1a1a1a" stroke-width="1.25"/>
<path d="M365.70 324.20 H367.90" stroke="#222" stroke-width="1"/>
<text x="354.01" y="326.40" font-size="6.447" textLength="10.19" lengthAdjust="spacingAndGlyphs">0.0</text>
<path d="M365.70 304.16 H367.90" stroke="#222" stroke-width="1"/>
<text x="354.01" y="306.36" font-size="6.447" textLength="10.18" lengthAdjust="spacingAndGlyphs">0.2</text>
<path d="M365.70 284.12 H367.90" stroke="#222" stroke-width="1"/>
<text x="354.02" y="286.32" font-size="6.447" textLength="9.92" lengthAdjust="spacingAndGlyphs">0.4</text>
<path d="M365.70 264.08 H367.90" stroke="#222" stroke-width="1"/>
<text x="354.01" y="266.28" font-size="6.447" textLength="10.15" lengthAdjust="spacingAndGlyphs">0.6</text>
<path d="M365.70 244.04 H367.90" stroke="#222" stroke-width="1"/>
<text x="354.01" y="246.24" font-size="6.447" textLength="10.11" lengthAdjust="spacingAndGlyphs">0.8</text>
<path d="M365.70 224.00 H367.90" stroke="#222" stroke-width="1"/>
<text x="353.83" y="226.20" font-size="6.447" textLength="10.38" lengthAdjust="spacingAndGlyphs">1.0</text>
<text transform="translate(349.20 283.60) rotate(-90)" font-size="7.558" textLength="19.64" lengthAdjust="spacingAndGlyphs">A650</text>
<g fill="#8b8b8b">
<rect x="373.10" y="273.10" width="7.6" height="51.10"/>
<rect x="382.80" y="249.55" width="7.6" height="74.65"/>
<rect x="392.30" y="253.06" width="7.6" height="71.14"/>
<rect x="402.60" y="315.68" width="7.6" height="8.52"/>
<rect x="412.00" y="316.99" width="7.6" height="7.21"/>
<rect x="421.60" y="317.69" width="7.6" height="6.51"/>
<rect x="431.30" y="245.54" width="7.6" height="78.66"/>
<rect x="448.00" y="319.69" width="7.6" height="4.51"/>
<rect x="457.70" y="319.19" width="7.6" height="5.01"/>
<rect x="467.20" y="317.99" width="7.6" height="6.21"/>
<rect x="476.80" y="318.69" width="7.6" height="5.51"/>
<rect x="486.40" y="319.19" width="7.6" height="5.01"/>
<rect x="496.10" y="319.19" width="7.6" height="5.01"/>
<rect x="506.20" y="234.02" width="7.6" height="90.18"/>
</g>
<g fill="#111">
<rect x="375.20" y="271.90" width="3.4" height="2.2" rx="1.0"/>
<rect x="384.90" y="247.45" width="3.4" height="2.2" rx="1.0"/>
<rect x="394.40" y="251.86" width="3.4" height="2.2" rx="1.0"/>
<rect x="404.70" y="314.48" width="3.4" height="2.2" rx="1.0"/>
<rect x="414.10" y="315.79" width="3.4" height="2.2" rx="1.0"/>
<rect x="450.10" y="318.49" width="3.4" height="2.2" rx="1.0"/>
<rect x="459.80" y="317.99" width="3.4" height="2.2" rx="1.0"/>
<rect x="478.90" y="317.49" width="3.4" height="2.2" rx="1.0"/>
</g>
<path d="M405.70 324.20 V326.60" stroke="#222" stroke-width="1"/>
<path d="M480.20 324.20 V326.60" stroke="#222" stroke-width="1"/>
<g stroke="#111" stroke-width="1.1">
<path d="M373.0 331.2 H400.7"/>
<path d="M403.4 331.2 H418.5"/>
<path d="M446.6 331.2 H474.4"/>
<path d="M480.0 331.2 H494.3"/>
</g>
<g stroke="#999" stroke-width="0.8" fill="none">
<path d="M377.8 341.6 V343.6 H418.4 V341.6"/>
<path d="M452.5 341.6 V343.6 H492.2 V341.6"/>
</g>
<text x="328.09" y="338.90" font-size="5.233" textLength="39.16" lengthAdjust="spacingAndGlyphs">Mice treated with:</text>
<text x="313.10" y="348.30" font-size="5.233" textLength="54.11" lengthAdjust="spacingAndGlyphs">Assay for Abs recognizing:</text>
<text x="377.78" y="338.20" font-size="4.797" class="n" textLength="14.16" lengthAdjust="spacingAndGlyphs">DTA-1</text>
<text x="405.50" y="338.20" font-size="4.797" class="n" textLength="12.07" lengthAdjust="spacingAndGlyphs">LTF-2</text>
<text x="453.57" y="338.30" font-size="4.797" class="n" textLength="14.57" lengthAdjust="spacingAndGlyphs">DTA-1</text>
<text x="482.01" y="338.30" font-size="4.797" class="n" textLength="11.87" lengthAdjust="spacingAndGlyphs">LTF-2</text>
<text x="388.77" y="351.60" font-size="4.651" class="n" textLength="14.47" lengthAdjust="spacingAndGlyphs">DTA-1</text>
<text x="468.79" y="350.60" font-size="4.651" class="n" textLength="12.49" lengthAdjust="spacingAndGlyphs">LTF-2</text>
<text x="421.49" y="333.30" font-size="4.521" class="n" textLength="4.22" lengthAdjust="spacingAndGlyphs">(-)</text>
<text x="431.98" y="333.30" font-size="4.521" class="n" textLength="5.54" lengthAdjust="spacingAndGlyphs">(+)</text>
<text x="497.56" y="333.30" font-size="4.521" class="n" textLength="4.89" lengthAdjust="spacingAndGlyphs">(-)</text>
<text x="507.42" y="333.30" font-size="4.521" class="n" textLength="7.06" lengthAdjust="spacingAndGlyphs">(+)</text>
</svg></body></html>
